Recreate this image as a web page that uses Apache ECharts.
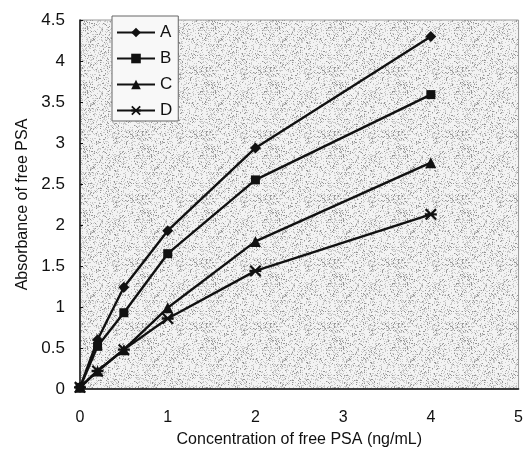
<!DOCTYPE html>
<html>
<head>
<meta charset="utf-8">
<script src="https://cdn.jsdelivr.net/npm/echarts@6/dist/echarts.min.js"></script>
<style>
  html, body { margin: 0; padding: 0; background: #fff; }
  #chart { width: 526px; height: 453px; }
</style>
</head>
<body>
<div id="chart"></div>
<script>
// concentration of free PSA (ng/mL)
const conc = [0, 0.2, 0.5, 1, 2, 4]
const seriesA = [0.02, 0.6, 1.24, 1.93, 2.94, 4.3]
const seriesB = [0.02, 0.52, 0.93, 1.65, 2.55, 3.59]
const seriesC = [0.02, 0.22, 0.48, 0.99, 1.8, 2.76]
const seriesD = [0.02, 0.22, 0.48, 0.86, 1.44, 2.13]
const names = ['A', 'B', 'C', 'D']

// asterisk marker for D
const starPath = 'path://M0,4L10,4L10,6L0,6Z M0,1.3L1.3,0L10,8.7L8.7,10Z M8.7,0L10,1.3L1.3,10L0,8.7Z'
const symbols = ['diamond', 'rect', 'triangle', starPath]
const sizes = [11, 9, 11, 12]

// grainy grey fill like the scanned figure
function makeGrain() {
  const c = document.createElement('canvas')
  c.width = 64
  c.height = 64
  const ctx = c.getContext('2d')
  ctx.fillStyle = '#f3f3f3'
  ctx.fillRect(0, 0, 64, 64)
  let s = 12345
  for (let i = 0; i < 64 * 64; i++) {
    s = (s * 1103515245 + 12345) & 0x7fffffff
    const v = (s >> 8) % 100
    if (v < 28) {
      ctx.fillStyle = v < 7 ? '#959595' : '#cacaca'
      ctx.fillRect(i % 64, Math.floor(i / 64), 1, 1)
    }
  }
  return c
}

function pairs(ys) {
  return conc.map((x, i) => [x, ys[i]])
}

const data = [seriesA, seriesB, seriesC, seriesD]
const font = 'Liberation Sans, Arial, sans-serif'

const chart = echarts.init(document.getElementById('chart'))
chart.setOption({
  animation: false,
  grid: {
    left: 80,
    right: 7,
    top: 20,
    bottom: 60,
    show: true,
    backgroundColor: { image: makeGrain(), repeat: 'repeat' },
    borderColor: '#999',
    borderWidth: 1
  },
  legend: {
    data: names,
    orient: 'vertical',
    left: 112,
    top: 16,
    itemWidth: 38,
    itemHeight: 12,
    itemGap: 9,
    padding: [8, 6, 2, 4],
    backgroundColor: '#f8f8f8',
    borderColor: '#666',
    borderWidth: 1,
    textStyle: { fontFamily: font, fontSize: 17, color: '#111' }
  },
  xAxis: {
    type: 'value',
    min: 0,
    max: 5,
    interval: 1,
    name: 'Concentration of free PSA (ng/mL)',
    nameLocation: 'middle',
    nameGap: 43,
    nameTextStyle: { fontFamily: font, fontSize: 16, color: '#111' },
    axisLine: { lineStyle: { color: '#111', width: 1.5 } },
    axisTick: { show: false },
    axisLabel: { fontFamily: font, fontSize: 16, color: '#111', margin: 21 },
    splitLine: { show: false }
  },
  yAxis: {
    type: 'value',
    min: 0,
    max: 4.5,
    interval: 0.5,
    name: 'Absorbance of free PSA',
    nameLocation: 'middle',
    nameGap: 45,
    nameTextStyle: { fontFamily: font, fontSize: 16, color: '#111' },
    axisLine: { show: true, lineStyle: { color: '#111', width: 1.5 } },
    axisTick: { show: true, inside: true, length: 3, lineStyle: { color: '#111' } },
    axisLabel: { fontFamily: font, fontSize: 17, color: '#111', margin: 15 },
    splitLine: { show: false }
  },
  series: names.map((n, i) => ({
    name: n,
    type: 'line',
    data: pairs(data[i]),
    symbol: symbols[i],
    symbolSize: sizes[i],
    showAllSymbol: true,
    lineStyle: { color: '#111', width: 2.4 },
    itemStyle: { color: '#111' }
  }))
})
</script>
</body>
</html>
